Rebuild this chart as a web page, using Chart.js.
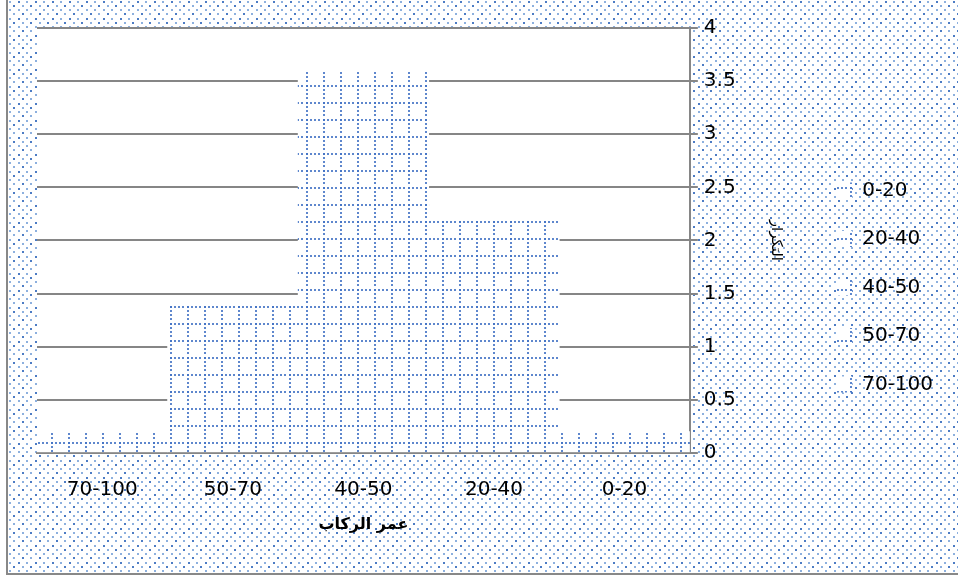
<!DOCTYPE html>
<html lang="ar">
<head>
<meta charset="utf-8">
<title>عمر الركاب</title>
<script src="https://cdn.jsdelivr.net/npm/chart.js@4.4.1/dist/chart.umd.min.js"></script>
<style>
  html, body { margin: 0; padding: 0; background: #fff; }
  canvas { display: block; }
</style>
</head>
<body>
<canvas id="ageChart" width="958" height="577"></canvas>
<script>
// age groups and how many passengers fall in each
const ageGroups = ["0-20", "20-40", "40-50", "50-70", "70-100"];
const frequencies = [0.2, 2.2, 3.6, 1.4, 0.2];
const frequencyTicks = [0, 0.5, 1, 1.5, 2, 2.5, 3, 3.5, 4];
const xTitle = "عمر الركاب";
const yTitle = "التكرار";

const FONT = "'DejaVu Sans', 'Liberation Sans', sans-serif";

// small helper to paint a repeating tile
function makeTile(size, draw) {
    const c = document.createElement("canvas");
    c.width = c.height = size;
    draw(c.getContext("2d"));
    return c;
}

// dotted grid used inside the bars
const gridTile = makeTile(17, (g) => {
    g.fillStyle = "#fff";
    g.fillRect(0, 0, 17, 17);
    g.fillStyle = "rgba(66, 114, 196, 0.85)";
    [0, 4, 8, 12].forEach((p) => {
        g.fillRect(p, 0, 2, 2);
        g.fillRect(0, p, 2, 2);
    });
});

// scattered dots behind the whole chart
const dotTile = makeTile(17, (g) => {
    g.fillStyle = "#fff";
    g.fillRect(0, 0, 17, 17);
    const pts = [[1, 1], [9, 1], [5, 5], [13, 5], [1, 9], [9, 9], [5, 13], [13, 13]];
    pts.forEach(([x, y], i) => {
        g.fillStyle = i % 3 === 0 ? "#4d7cc4" : "#8db0de";
        g.fillRect(x, y, 2, 2);
    });
});

const ctx = document.getElementById("ageChart").getContext("2d");
const barFill = ctx.createPattern(gridTile, "repeat");
const dotFill = ctx.createPattern(dotTile, "repeat");

const backdrop = {
    id: "backdrop",
    beforeDraw(chart) {
        const { ctx, chartArea: a, width, height } = chart;
        ctx.save();
        ctx.fillStyle = "#fff";
        ctx.fillRect(0, 0, width, height);
        ctx.fillStyle = dotFill;
        ctx.fillRect(9, 0, width - 9, height - 4);
        ctx.fillStyle = "#fff";
        ctx.fillRect(a.left, a.top, a.right - a.left, a.bottom - a.top);
        // frame on the left and bottom
        ctx.fillStyle = "#888";
        ctx.fillRect(6, 0, 2, height - 2);
        ctx.fillRect(6, height - 4, width - 6, 2);
        ctx.restore();
    },
};

new Chart(ctx, {
    type: "bar",
    data: {
        labels: ageGroups,
        datasets: [
            {
                label: yTitle,
                data: frequencies,
                backgroundColor: barFill,
                borderWidth: 0,
                categoryPercentage: 1,
                barPercentage: 1,
            },
        ],
    },
    options: {
        responsive: false,
        animation: false,
        layout: {
            padding: { left: 37, top: 28, bottom: 30, right: 15 },
        },
        scales: {
            x: {
                reverse: true,
                grid: { display: false },
                border: { color: "#868686", width: 2 },
                ticks: {
                    color: "#000",
                    font: { family: FONT, size: 20 },
                    padding: 17,
                },
                title: {
                    display: true,
                    text: xTitle,
                    color: "#000",
                    font: { family: FONT, size: 16, weight: "bold" },
                    padding: { top: -4, bottom: 13 },
                },
            },
            y: {
                position: "right",
                min: frequencyTicks[0],
                max: frequencyTicks[frequencyTicks.length - 1],
                afterBuildTicks: (axis) => {
                    axis.ticks = frequencyTicks.map((v) => ({ value: v }));
                },
                grid: { color: "#868686", lineWidth: 2, tickLength: 8 },
                border: { color: "#868686", width: 2 },
                ticks: {
                    color: "#000",
                    font: { family: FONT, size: 20 },
                    padding: 6,
                    callback: (value) => String(value),
                },
                title: {
                    display: true,
                    text: yTitle,
                    color: "#000",
                    font: { family: FONT, size: 15 },
                    padding: { top: 23, bottom: 25 },
                },
            },
        },
        plugins: {
            legend: {
                position: "right",
                onClick: null,
                labels: {
                    boxWidth: 16,
                    boxHeight: 16,
                    padding: 28.5,
                    color: "#000",
                    font: { family: FONT, size: 20 },
                    generateLabels: () =>
                        ageGroups.map((g, i) => ({
                            text: g,
                            fillStyle: barFill,
                            strokeStyle: "rgba(0,0,0,0)",
                            lineWidth: 0,
                            hidden: false,
                            index: i,
                        })),
                },
            },
            tooltip: { enabled: false },
        },
    },
    plugins: [backdrop],
});
</script>
</body>
</html>
